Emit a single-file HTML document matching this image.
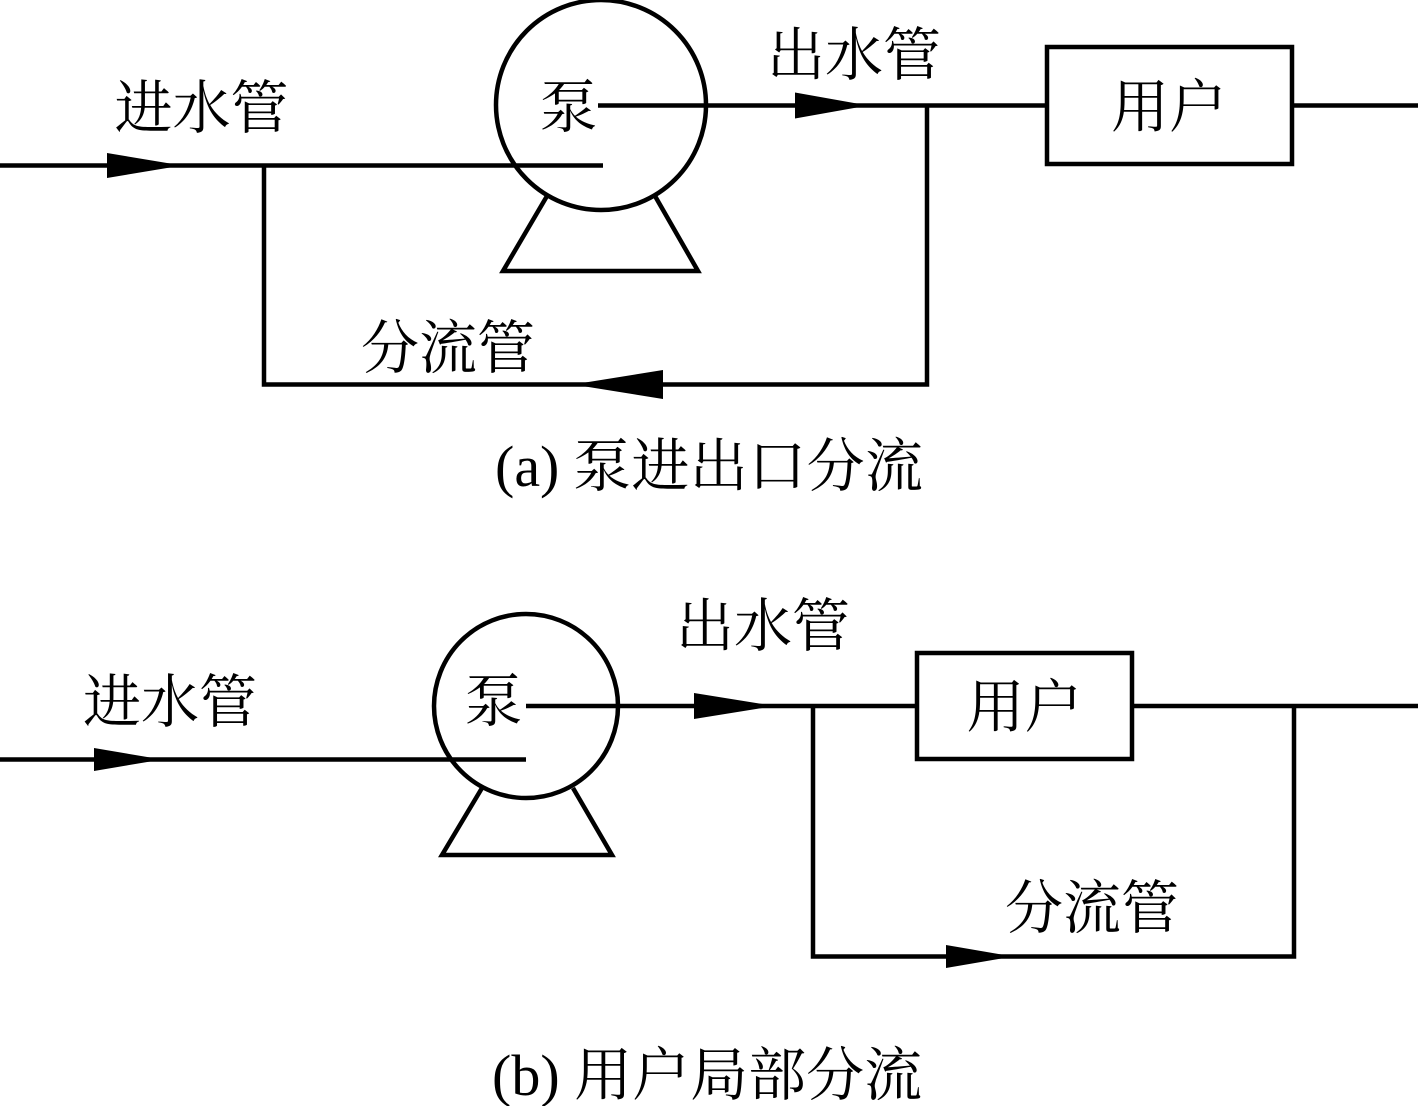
<!DOCTYPE html>
<html>
<head>
<meta charset="utf-8">
<style>
html,body{margin:0;padding:0;background:#fff;}
svg{display:block;}
text{font-family:"Liberation Serif","Noto Serif CJK SC",serif;font-size:58px;fill:#000;}
</style>
</head>
<body>
<svg width="1418" height="1106" viewBox="0 0 1418 1106" xmlns="http://www.w3.org/2000/svg">
<g fill="none" stroke="#000" stroke-width="4.5">
<circle cx="601" cy="105" r="105"/>
<polyline points="547,196 503,271 698,271 655,196"/>
<line x1="0" y1="165.5" x2="603" y2="165.5"/>
<line x1="598" y1="105.5" x2="1047" y2="105.5"/>
<rect x="1047" y="47" width="245" height="117"/>
<line x1="1292" y1="105.5" x2="1418" y2="105.5"/>
<polyline points="927,105 927,384.5 264,384.5 264,165"/>
<circle cx="526" cy="706" r="92"/>
<polyline points="482,788 442,855 612,855 573,788"/>
<line x1="0" y1="759.5" x2="526" y2="759.5"/>
<line x1="526" y1="706" x2="917" y2="706"/>
<rect x="917" y="653" width="215" height="106"/>
<line x1="1132" y1="706" x2="1418" y2="706"/>
<polyline points="813,706 813,956.5 1294,956.5 1294,706"/>
</g>
<g fill="#000">
<polygon points="107,153 182,165.5 107,178"/>
<polygon points="795,92.5 868,105.5 795,118.5"/>
<polygon points="663,370 573,384.5 663,399"/>
<polygon points="94,748 162,759.5 94,771"/>
<polygon points="694,693 775,706 694,719"/>
<polygon points="946,945 1013,956.5 946,968"/>
</g>
<text x="114.5" y="128">进水管</text>
<text x="767" y="75">出水管</text>
<text x="539.5" y="127">泵</text>
<text x="1111" y="127">用户</text>
<text x="361" y="368">分流管</text>
<text x="495" y="486">(a)</text>
<text x="573" y="486" letter-spacing="0.4">泵进出口分流</text>
<text x="83" y="722">进水管</text>
<text x="676" y="646">出水管</text>
<text x="464.5" y="721">泵</text>
<text x="966.5" y="727">用户</text>
<text x="1005" y="928">分流管</text>
<text x="492" y="1095">(b) 用户局部分流</text>
</svg>
</body>
</html>
